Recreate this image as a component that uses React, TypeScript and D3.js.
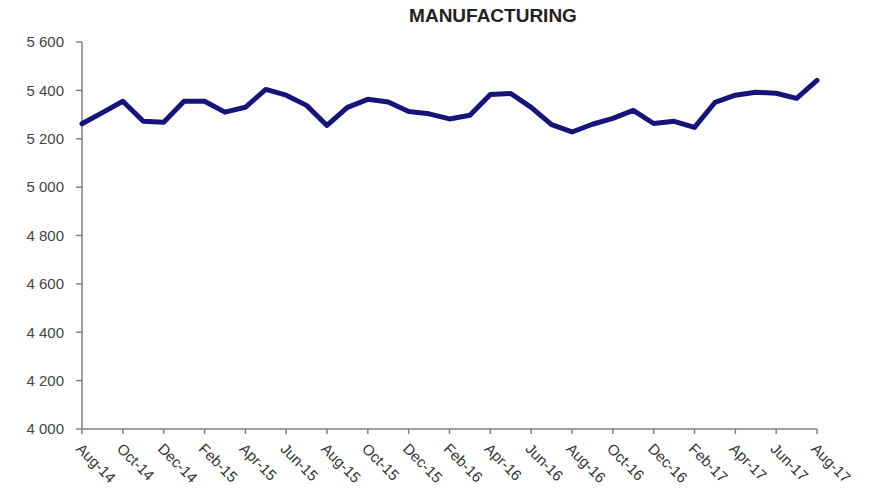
import React from "react";
import * as d3 from "d3";

const months = [
  "Aug-14","Sep-14","Oct-14","Nov-14","Dec-14","Jan-15","Feb-15","Mar-15","Apr-15","May-15","Jun-15","Jul-15",
  "Aug-15","Sep-15","Oct-15","Nov-15","Dec-15","Jan-16","Feb-16","Mar-16","Apr-16","May-16","Jun-16","Jul-16",
  "Aug-16","Sep-16","Oct-16","Nov-16","Dec-16","Jan-17","Feb-17","Mar-17","Apr-17","May-17","Jun-17","Jul-17","Aug-17",
];
const values = [
  5262, 5308, 5355, 5272, 5268, 5355, 5355, 5310, 5330, 5404, 5380, 5338,
  5255, 5330, 5363, 5352, 5313, 5303, 5282, 5297, 5383, 5387, 5330, 5258,
  5228, 5260, 5284, 5317, 5263, 5272, 5247, 5350, 5380, 5392, 5388, 5367, 5441,
];
const yTicks = [4000, 4200, 4400, 4600, 4800, 5000, 5200, 5400, 5600];
const title = "MANUFACTURING";

export default function App() {
  const W = 875, H = 504;
  const left = 82, right = 817, top = 42, bottom = 429;
  const x = d3.scaleLinear().domain([0, months.length - 1]).range([left, right]);
  const y = d3.scaleLinear().domain([4000, 5600]).range([bottom, top]);
  const line = d3.line<number>().x((_, i) => x(i)).y((d) => y(d)).curve(d3.curveLinear);
  const fmt = (v: number) => d3.format(",")(v).replace(",", " ");
  const labelIdx = months.map((_, i) => i).filter((i) => i % 2 === 0);
  const axisColor = "#808080";
  const font = "'Liberation Sans', Arial, sans-serif";

  return (
    <svg width={W} height={H} style={{ position: "absolute", left: 0, top: 0, background: "#fff" }}>
      <text x={493} y={22} textAnchor="middle" fontFamily={font} fontWeight="bold" fontSize={19} fill="#222">
        {title}
      </text>
      {/* y axis */}
      <line x1={left} x2={left} y1={top} y2={bottom} stroke={axisColor} strokeWidth={1.5} />
      {yTicks.map((t) => (
        <g key={t}>
          <line x1={left - 6} x2={left} y1={y(t)} y2={y(t)} stroke={axisColor} strokeWidth={1.5} />
          <text x={left - 18} y={y(t)} dy="0.35em" textAnchor="end" fontFamily={font} fontSize={15} fill="#444">
            {fmt(t)}
          </text>
        </g>
      ))}
      {/* x axis */}
      <line x1={left} x2={right} y1={bottom} y2={bottom} stroke={axisColor} strokeWidth={1.5} />
      {labelIdx.map((i) => (
        <g key={i}>
          <line x1={x(i)} x2={x(i)} y1={bottom} y2={bottom + 5} stroke={axisColor} strokeWidth={1.5} />
          <text
            transform={`translate(${x(i) - 3},${bottom + 17}) rotate(45)`}
            textAnchor="start"
            dy="0.35em"
            fontFamily={font}
            fontSize={15}
            fill="#333"
          >
            {months[i]}
          </text>
        </g>
      ))}
      <path d={line(values) || ""} fill="none" stroke="#14147a" strokeWidth={5} strokeLinejoin="round" strokeLinecap="round" />
    </svg>
  );
}
